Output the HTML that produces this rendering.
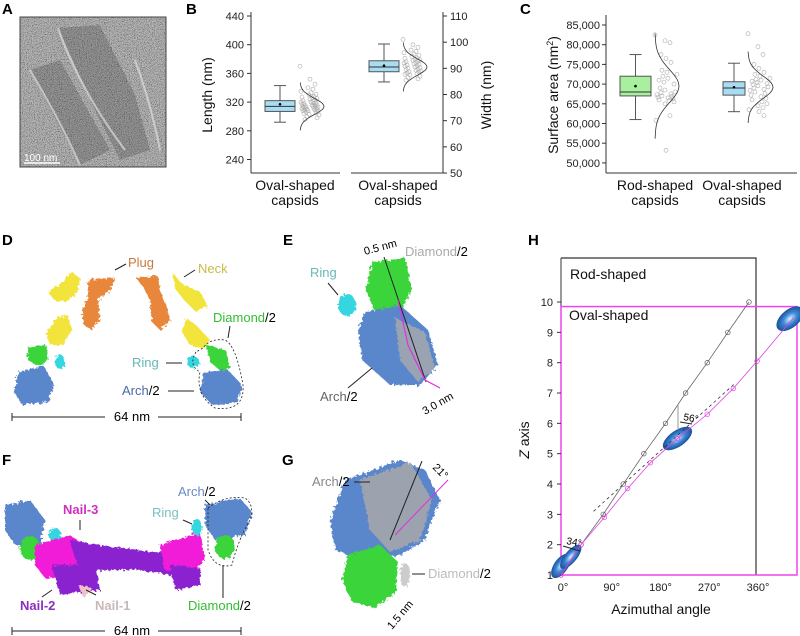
<!DOCTYPE html>
<html><head><meta charset="utf-8"><style>
html,body{margin:0;padding:0;background:#fff}
svg{display:block;font-family:"Liberation Sans",sans-serif}
.pl{font-size:15px;font-weight:bold}
.tk{font-size:11px;fill:#222}
.at{font-size:14px;fill:#111}
.lb{font-size:13px;font-weight:bold}
</style></head><body>
<svg id="fig" width="800" height="636" viewBox="0 0 800 636" xmlns="http://www.w3.org/2000/svg">
<defs>
<filter id="noise" x="0" y="0" width="100%" height="100%"><feTurbulence type="fractalNoise" baseFrequency="1.6" numOctaves="1" seed="3"/><feColorMatrix type="saturate" values="0"/><feComponentTransfer><feFuncR type="linear" slope="3" intercept="-1"/><feFuncG type="linear" slope="3" intercept="-1"/><feFuncB type="linear" slope="3" intercept="-1"/><feFuncA type="linear" slope="0" intercept="1"/></feComponentTransfer></filter>
<filter id="rough"><feTurbulence type="fractalNoise" baseFrequency="0.35" numOctaves="2" seed="5" result="t"/><feDisplacementMap in="SourceGraphic" in2="t" scale="6"/></filter>
<radialGradient id="bl"><stop offset="0" stop-color="#dff0ff"/><stop offset="0.5" stop-color="#3a8ad6"/><stop offset="1" stop-color="#1e4f9a"/></radialGradient>
</defs>

<!-- Panel A -->
<text class="pl" x="2" y="14">A</text>
<g>
<rect x="20" y="17" width="146" height="150" fill="#888"/>
<rect x="20" y="17" width="146" height="150" filter="url(#noise)" opacity="0.6"/>
<path d="M58 28 L100 25 L135 95 L150 150 L120 160 L95 110 Z" fill="#333" opacity="0.25"/>
<path d="M30 70 L60 60 L110 150 L80 165 Z" fill="#333" opacity="0.25"/>
<path d="M58 28 Q80 90 125 150 M30 70 Q60 120 80 165 M135 60 Q150 100 160 150" fill="none" stroke="#ddd" stroke-width="2" opacity="0.7"/>
<rect x="20" y="17" width="146" height="150" fill="none" stroke="#444" stroke-width="1"/>
<text x="24" y="161" font-size="10" fill="#fff">100 nm</text>
<line x1="24" y1="163" x2="60" y2="163" stroke="#fff" stroke-width="1.5"/>
</g>

<!-- Panel B -->
<text class="pl" x="186" y="14">B</text>
<g id="chartB"></g>

<!-- Panel C -->
<text class="pl" x="520" y="14">C</text>
<g id="chartC"></g>

<!-- Panel D -->
<text class="pl" x="2" y="245">D</text>
<g filter="url(#rough)">
<path d="M72 272 L80 278 L78 292 L66 302 L54 300 L48 292 L62 282 Z" fill="#f2e43a"/>
<path d="M56 318 L68 315 L72 330 L62 345 L50 345 L46 334 Z" fill="#f2e43a"/>
<path d="M88 280 L114 277 L112 288 L98 300 L100 318 L92 330 L84 325 L82 310 L88 296 Z" fill="#e8873a"/>
<path d="M28 347 L46 345 L48 360 L38 366 L28 360 Z" fill="#3ad43a"/>
<ellipse cx="60" cy="362" rx="5" ry="7" fill="#36d6e0"/>
<path d="M18 372 L44 366 L54 385 L48 402 L22 405 L14 392 Z" fill="#5a86cc"/>
<path d="M172 272 L182 284 L200 292 L208 306 L196 312 L184 300 L176 290 Z" fill="#f2e43a"/>
<path d="M186 318 L196 325 L210 340 L204 348 L190 345 L182 332 Z" fill="#f2e43a"/>
<path d="M136 278 L158 276 L160 290 L166 305 L170 320 L160 330 L152 322 L150 300 L144 288 Z" fill="#e8873a"/>
<path d="M206 345 L226 350 L230 368 L222 372 L210 362 Z" fill="#3ad43a"/>
<ellipse cx="193" cy="362" rx="6" ry="6" fill="#36d6e0"/>
<path d="M204 372 L228 370 L242 385 L238 402 L212 405 L200 392 Z" fill="#5a86cc"/>
</g>
<g font-size="13">
<text x="128" y="267" fill="#c87a3a">Plug</text>
<line x1="126" y1="264" x2="115" y2="270" stroke="#222"/>
<text x="198" y="273" fill="#c8bc4a">Neck</text>
<line x1="195" y1="270" x2="184" y2="277" stroke="#222"/>
<text x="213" y="322"><tspan fill="#2fbf2f">Diamond</tspan>/2</text>
<line x1="230" y1="326" x2="228" y2="338" stroke="#222"/>
<text x="132" y="367" fill="#66b8b8">Ring</text>
<line x1="166" y1="363" x2="182" y2="363" stroke="#222"/>
<text x="122" y="395"><tspan fill="#4a68a8">Arch</tspan>/2</text>
<line x1="168" y1="391" x2="194" y2="391" stroke="#222"/>
<path d="M196 352 Q188 365 200 372 Q195 395 215 408 Q245 412 243 385 Q236 345 225 340 Q210 338 203 348 Z" fill="none" stroke="#222" stroke-dasharray="2 2" stroke-width="0.8"/>
<line x1="12" y1="417" x2="105" y2="417" stroke="#222"/><line x1="158" y1="417" x2="241" y2="417" stroke="#222"/>
<line x1="12" y1="413" x2="12" y2="421" stroke="#222"/><line x1="241" y1="413" x2="241" y2="421" stroke="#222"/>
<text x="132" y="421" text-anchor="middle">64 nm</text>
</g>

<!-- Panel E -->
<text class="pl" x="283" y="245">E</text>
<g filter="url(#rough)">
<path d="M372 262 L405 258 L412 290 L398 318 L376 315 L366 290 Z" fill="#3ad43a"/>
<ellipse cx="347" cy="305" rx="9" ry="11" fill="#36d6e0"/>
<path d="M365 312 L400 305 L428 330 L438 365 L420 385 L390 385 L362 360 L358 330 Z" fill="#5a86cc"/>
<path d="M395 318 L425 332 L435 368 L418 382 L400 360 Z" fill="#aaa" opacity="0.8"/>
</g>
<g font-size="13">
<line x1="384" y1="257" x2="426" y2="382" stroke="#222"/>
<path d="M398 300 L408 345 L425 380 L440 388" fill="none" stroke="#e030e0" stroke-width="1.2"/>
<text x="310" y="277" fill="#66b8b8">Ring</text>
<line x1="328" y1="283" x2="338" y2="295" stroke="#222"/>
<text x="405" y="256"><tspan fill="#aaa">Diamond</tspan>/2</text>
<text x="365" y="255" font-size="11" transform="rotate(-15 365 255)">0.5 nm</text>
<text x="320" y="401"><tspan fill="#666">Arch</tspan>/2</text>
<line x1="348" y1="388" x2="372" y2="368" stroke="#222"/>
<text x="425" y="415" font-size="11" transform="rotate(-30 425 415)">3.0 nm</text>
</g>

<!-- Panel F -->
<text class="pl" x="2" y="465">F</text>
<g filter="url(#rough)">
<path d="M5 505 L30 500 L45 520 L40 545 L15 545 L5 530 Z" fill="#5a86cc"/>
<ellipse cx="30" cy="548" rx="10" ry="12" fill="#3ad43a"/>
<ellipse cx="55" cy="535" rx="6" ry="7" fill="#36d6e0"/>
<path d="M35 545 L70 535 L85 545 L80 575 L45 578 L35 565 Z" fill="#f01fd8"/>
<path d="M70 540 L100 545 L160 553 L180 540 L195 548 L195 565 L170 575 L140 570 L100 570 L80 575 Z" fill="#8a20d0"/>
<path d="M52 565 L95 565 L100 590 L60 595 Z" fill="#8a20d0"/>
<path d="M78 585 L92 588 L84 598 Z" fill="#f0c0c8"/>
<path d="M160 545 L200 532 L205 560 L190 575 L165 570 Z" fill="#f01fd8"/>
<ellipse cx="197" cy="527" rx="5" ry="8" fill="#36d6e0"/>
<path d="M205 505 L240 498 L252 512 L245 535 L215 540 L205 525 Z" fill="#5a86cc"/>
<ellipse cx="225" cy="547" rx="10" ry="12" fill="#3ad43a"/>
<path d="M170 565 L200 568 L200 585 L175 590 Z" fill="#8a20d0"/>
</g>
<g font-size="13">
<text x="63" y="514" fill="#d030c0" font-weight="bold">Nail-3</text>
<line x1="80" y1="520" x2="80" y2="530" stroke="#222"/>
<text x="20" y="610" fill="#8a30c0" font-weight="bold">Nail-2</text>
<line x1="42" y1="597" x2="52" y2="590" stroke="#222"/>
<text x="95" y="610" fill="#c8b8b8" font-weight="bold">Nail-1</text>
<line x1="96" y1="595" x2="86" y2="590" stroke="#222"/>
<text x="178" y="496"><tspan fill="#6a88c8">Arch</tspan>/2</text>
<line x1="205" y1="500" x2="210" y2="505" stroke="#222"/>
<text x="152" y="517" fill="#7ac0c0">Ring</text>
<line x1="183" y1="520" x2="192" y2="524" stroke="#222"/>
<text x="188" y="610"><tspan fill="#2fbf2f">Diamond</tspan>/2</text>
<line x1="223" y1="598" x2="223" y2="565" stroke="#222"/>
<path d="M208 508 Q225 495 245 498 Q255 505 250 520 Q238 540 232 565 Q215 570 208 550 Z" fill="none" stroke="#222" stroke-dasharray="2 2" stroke-width="0.8"/>
<line x1="12" y1="631" x2="105" y2="631" stroke="#222"/><line x1="158" y1="631" x2="241" y2="631" stroke="#222"/>
<line x1="12" y1="627" x2="12" y2="635" stroke="#222"/><line x1="241" y1="627" x2="241" y2="635" stroke="#222"/>
<text x="132" y="635" text-anchor="middle">64 nm</text>
</g>

<!-- Panel G -->
<text class="pl" x="282" y="465">G</text>
<g filter="url(#rough)">
<path d="M345 480 L400 460 L425 470 L440 500 L425 540 L400 555 L360 560 L335 550 L330 520 Z" fill="#5a86cc"/>
<path d="M360 480 L410 462 L432 500 L420 540 L390 552 L370 530 Z" fill="#a8a8a8" opacity="0.85"/>
<path d="M348 555 L380 545 L398 562 L396 592 L375 608 L352 602 L342 580 Z" fill="#3ad43a"/>
<ellipse cx="405" cy="575" rx="5" ry="12" fill="#ccc"/>
</g>
<g font-size="13">
<line x1="422" y1="461" x2="390" y2="540" stroke="#222"/>
<line x1="448" y1="480" x2="395" y2="535" stroke="#e030e0"/>
<text x="312" y="486"><tspan fill="#888">Arch</tspan>/2</text>
<line x1="354" y1="482" x2="370" y2="482" stroke="#222"/>
<text x="432" y="468" font-size="11" transform="rotate(45 432 468)">21°</text>
<text x="428" y="578"><tspan fill="#bbb">Diamond</tspan>/2</text>
<line x1="425" y1="574" x2="412" y2="574" stroke="#222"/>
<text x="392" y="630" font-size="11" transform="rotate(-50 392 630)">1.5 nm</text>
</g>

<!-- Panel H -->
<text class="pl" x="528" y="245">H</text>
<g id="chartH"></g>
</svg>

<script>
const NS="http://www.w3.org/2000/svg";
function mk(parent,tag,attrs,txt){const e=document.createElementNS(NS,tag);for(const k in attrs)e.setAttribute(k,attrs[k]);if(txt!==undefined)e.textContent=txt;parent.appendChild(e);return e;}

/* ---------- Panel B data ---------- */
const bLeftTicks=[440,400,360,320,280,240];
const bRightTicks=[110,100,90,80,70,60,50];
const bCategories=["Oval-shaped","Oval-shaped"];
const bLengthBox=[292,307,314,322,343]; // min,q1,median,q3,max
const bLengthMean=317;
const bWidthBox=[84.8,88.7,90.5,92.9,99.3];
const bWidthMean=91.0;
const bLengthPoints=[370,352,345,340,338,335,333,331,330,328,327,326,325,324,323,322,321,320,320,319,318,318,317,316,316,315,315,314,314,313,313,312,312,311,311,310,310,309,309,308,308,307,306,305,304,303,302,300,298,296];
const bWidthPoints=[101,99,98,97,96.5,96,95.5,95,94.5,94,93.8,93.5,93.2,93,92.7,92.5,92.2,92,91.8,91.5,91.3,91,90.8,90.5,90.3,90,89.8,89.5,89.2,89,88.7,88.5,88.2,88,87.7,87.5,87,86.5,86,85.5];

(function(){
 const g=document.getElementById('chartB');
 const yL=v=>16+(440-v)*0.7175;
 const yR=v=>16+(110-v)*2.617;
 let e;
 e=mk(g,'line',{x1:251,y1:12,x2:251,y2:173,stroke:'#333'});
 
 
 e=mk(g,'line',{x1:443,y1:12,x2:443,y2:173,stroke:'#333'});
 
 
 mk(g,'line',{x1:251,y1:173,x2:340,y2:173,stroke:'#333'});
 mk(g,'line',{x1:351,y1:173,x2:443,y2:173,stroke:'#333'});
 bLeftTicks.forEach(v=>{mk(g,'line',{x1:247,y1:yL(v),x2:251,y2:yL(v),stroke:'#333'});
  e=mk(g,'text',{x:244,y:yL(v)+4,'text-anchor':'end',class:'tk'},v);
  
  });
 bRightTicks.forEach(v=>{mk(g,'line',{x1:443,y1:yR(v),x2:447,y2:yR(v),stroke:'#333'});
  e=mk(g,'text',{x:450,y:yR(v)+4,class:'tk'},v);
  
  });
 e=mk(g,'text',{x:0,y:0,class:'at','text-anchor':'middle',transform:'translate(212,95) rotate(-90)'},'Length (nm)');
 
 
 e=mk(g,'text',{x:0,y:0,class:'at','text-anchor':'middle',transform:'translate(491,95) rotate(-90)'},'Width (nm)');
 
 
 function box(bx,data,mean,ys,fill,name,px,pts,peak){
  const cx=bx+15;
  mk(g,'line',{x1:cx,y1:ys(data[0]),x2:cx,y2:ys(data[4]),stroke:'#555'});
  mk(g,'line',{x1:cx-6,y1:ys(data[0]),x2:cx+6,y2:ys(data[0]),stroke:'#555'});
  mk(g,'line',{x1:cx-6,y1:ys(data[4]),x2:cx+6,y2:ys(data[4]),stroke:'#555'});
  let r=mk(g,'rect',{x:bx,y:ys(data[3]),width:30,height:ys(data[1])-ys(data[3]),fill:fill,stroke:'#555'});
  
  
  mk(g,'line',{x1:bx,y1:ys(data[2]),x2:bx+30,y2:ys(data[2]),stroke:'#333'});
  mk(g,'circle',{cx:cx,cy:ys(mean),r:1.3,fill:'#000'});
  pts.forEach((v,i)=>{const c=mk(g,'circle',{cx:px+((i*7)%17)+((i*3)%5),cy:ys(v),r:2,fill:'none',stroke:'#aaa','stroke-width':0.6});
   
   });
  const mu=data[2], sd=(data[3]-data[1])/1.35;
  let d='';for(let k=-3;k<=3.01;k+=0.2){const v=mu+k*sd;const x=px+peak*Math.exp(-k*k/2);d+=(d?'L':'M')+x.toFixed(1)+' '+ys(v).toFixed(1);}
  const p=mk(g,'path',{d:d,fill:'none',stroke:'#333','stroke-width':0.8});
  
  
 }
 box(265,bLengthBox,bLengthMean,yL,'#a8dcf2','b-length-box',300,bLengthPoints,24);
 box(369,bWidthBox,bWidthMean,yR,'#a8dcf2','b-width-box',403,bWidthPoints,24);
 [295,398].forEach((x,i)=>{e=mk(g,'text',{x:x,y:190,class:'at','text-anchor':'middle'},bCategories[i]);
  
  
  mk(g,'text',{x:x,y:205,class:'at','text-anchor':'middle'},'capsids');});
})();

/* ---------- Panel C data ---------- */
const cTicks=[85000,80000,75000,70000,65000,60000,55000,50000];
const cCategories=["Rod-shaped","Oval-shaped"];
const cRodBox=[61000,67000,68000,72000,77500];
const cRodMean=69500;
const cOvalBox=[63000,67200,69000,70600,75300];
const cOvalMean=69200;
const cRodPoints=[82500,81000,80500,77500,76500,75500,73500,73000,72500,72000,71500,71000,70500,70000,69000,68500,68000,67800,67500,67300,67000,66900,66700,66500,66300,66000,65800,65500,65000,62000,60800,53200];
const cOvalPoints=[82800,79500,77500,75000,74000,73000,72500,72000,71500,71200,71000,70700,70400,70100,69900,69600,69300,69000,68700,68400,68000,67600,67200,66800,66400,66000,65500,65000,64500,64000,63500,63000,62000];

(function(){
 const g=document.getElementById('chartC');
 const ys=v=>25+(85000-v)*0.00394;
 let e;
 e=mk(g,'line',{x1:606,y1:15,x2:606,y2:173,stroke:'#333'});
 
 
 e=mk(g,'line',{x1:606,y1:173,x2:797,y2:173,stroke:'#333'});
 
 
 cTicks.forEach(v=>{mk(g,'line',{x1:602,y1:ys(v),x2:606,y2:ys(v),stroke:'#333'});
  e=mk(g,'text',{x:600,y:ys(v)+4,'text-anchor':'end',class:'tk'},v.toLocaleString('en-US'));
  
  });
 e=mk(g,'text',{x:0,y:0,class:'at','text-anchor':'middle',transform:'translate(558,95) rotate(-90)'});
 
 
 e.innerHTML='Surface area (nm<tspan dy="-5" font-size="9">2</tspan><tspan dy="5">)</tspan>';
 function box(bx,w,data,mean,fill,name,px,pts,peak){
  const cx=bx+w/2;
  mk(g,'line',{x1:cx,y1:ys(data[0]),x2:cx,y2:ys(data[4]),stroke:'#555'});
  mk(g,'line',{x1:cx-6,y1:ys(data[0]),x2:cx+6,y2:ys(data[0]),stroke:'#555'});
  mk(g,'line',{x1:cx-6,y1:ys(data[4]),x2:cx+6,y2:ys(data[4]),stroke:'#555'});
  const r=mk(g,'rect',{x:bx,y:ys(data[3]),width:w,height:ys(data[1])-ys(data[3]),fill:fill,stroke:'#555'});
  
  
  mk(g,'line',{x1:bx,y1:ys(data[2]),x2:bx+w,y2:ys(data[2]),stroke:'#333'});
  mk(g,'circle',{cx:cx,cy:ys(mean),r:1.3,fill:'#000'});
  pts.forEach((v,i)=>{const c=mk(g,'circle',{cx:px+((i*7)%19)+((i*3)%5),cy:ys(v),r:2,fill:'none',stroke:'#aaa','stroke-width':0.6});
   
   });
  const mu=mean, sd=(data[3]-data[1])/1.2;
  let d='';for(let k=-3.2;k<=3.21;k+=0.2){const v=mu+k*sd;const x=px+peak*Math.exp(-k*k/2);d+=(d?'L':'M')+x.toFixed(1)+' '+ys(v).toFixed(1);}
  const p=mk(g,'path',{d:d,fill:'none',stroke:'#333','stroke-width':0.8});
  
  
 }
 box(620,31,cRodBox,cRodMean,'#a8f0a0','c-rod-box',655,cRodPoints,24);
 box(723,22,cOvalBox,cOvalMean,'#a8dcf2','c-oval-box',748,cOvalPoints,25);
 [655,742].forEach((x,i)=>{e=mk(g,'text',{x:x,y:190,class:'at','text-anchor':'middle'},cCategories[i]);
  
  
  mk(g,'text',{x:x,y:205,class:'at','text-anchor':'middle'},'capsids');});
})();

/* ---------- Panel H data ---------- */
const hXTicks=[0,90,180,270,360];
const hYTicks=[1,2,3,4,5,6,7,8,9,10];
const hRodAngles=[0,37,78,115,153,193,230,270,308,347];
const hRodZ=[1,2,3,4,5,6,7,8,9,10];
const hOvalAngles=[0,37,80,123,165,215,270,318,362];
const hOvalZ=[1,2,2.9,3.85,4.7,5.5,6.3,7.15,8.05];

(function(){
 const g=document.getElementById('chartH');
 const xs=a=>561+a*0.5417;
 const ys=z=>575-(z-1)*30.33;
 let e;
 e=mk(g,'path',{d:`M561 258 L${xs(360)} 258 L${xs(360)} 575`,fill:'none',stroke:'#333','stroke-width':1.2});
 
 
 e=mk(g,'line',{x1:561,y1:258,x2:561,y2:576,stroke:'#333'});
 
 
 e=mk(g,'rect',{x:561,y:ys(9.85),width:236,height:575-ys(9.85),fill:'none',stroke:'#ee44ee','stroke-width':1.5});
 
 
 e=mk(g,'text',{x:570,y:279,class:'at'},'Rod-shaped');
 
 
 e=mk(g,'text',{x:569,y:320,class:'at'},'Oval-shaped');
 
 
 hYTicks.forEach(v=>{mk(g,'line',{x1:557,y1:ys(v),x2:561,y2:ys(v),stroke:'#333'});
  e=mk(g,'text',{x:553,y:ys(v)+4,'text-anchor':'end',class:'tk'},v);
  
  });
 hXTicks.forEach(v=>{e=mk(g,'text',{x:xs(v)+2,y:591,'text-anchor':'middle',class:'tk'},v+'°');
  
  });
 e=mk(g,'text',{x:661,y:614,class:'at','text-anchor':'middle'},'Azimuthal angle');
 
 
 e=mk(g,'text',{x:0,y:0,class:'at','text-anchor':'middle',transform:'translate(529,440) rotate(-90)'});
 
 
 e.innerHTML='<tspan font-style="italic">Z</tspan> axis';
 [[0,1.3,14,7,-55],[18,1.6,15,6,-50],[215,5.5,17,8,-35],[430,9.45,16,9,-40]].forEach(b=>{
  const bx=Math.min(xs(b[0]),790);
  const el=mk(g,'ellipse',{cx:bx,cy:ys(b[1]),rx:b[2],ry:b[3],fill:'url(#bl)',transform:`rotate(${b[4]} ${bx} ${ys(b[1])})`});
  
  });
 mk(g,'line',{x1:xs(60),y1:ys(3.1),x2:xs(320),y2:ys(7.3),stroke:'#333','stroke-dasharray':'3 3','stroke-width':0.8});
 let d=hRodAngles.map((a,i)=>(i?'L':'M')+xs(a)+' '+ys(hRodZ[i])).join(' ');
 e=mk(g,'path',{d:d,fill:'none',stroke:'#666','stroke-width':0.8});
 
 
 hRodAngles.forEach((a,i)=>{const c=mk(g,'circle',{cx:xs(a),cy:ys(hRodZ[i]),r:2.3,fill:'none',stroke:'#555','stroke-width':0.7});
  
  });
 d=hOvalAngles.map((a,i)=>(i?'L':'M')+xs(a)+' '+ys(hOvalZ[i])).join(' ')+` L${xs(430)} ${ys(9.5)}`;
 e=mk(g,'path',{d:d,fill:'none',stroke:'#e040e0','stroke-width':0.8});
 
 
 hOvalAngles.forEach((a,i)=>{const c=mk(g,'circle',{cx:xs(a),cy:ys(hOvalZ[i]),r:2.3,fill:'none',stroke:'#e040e0','stroke-width':0.7});
  
  });
 e=mk(g,'text',{x:566,y:544,'font-size':10,transform:'rotate(10 566 544)'},'34°');
 
 
 mk(g,'line',{x1:563,y1:546,x2:580,y2:551,stroke:'#222'});
 e=mk(g,'text',{x:683,y:420,'font-size':10,transform:'rotate(10 683 420)'},'56°');
 
 
 mk(g,'line',{x1:680,y1:422,x2:692,y2:424,stroke:'#222'});
 mk(g,'line',{x1:678,y1:405,x2:678,y2:430,stroke:'#999'});
})();
</script>
</body></html>
